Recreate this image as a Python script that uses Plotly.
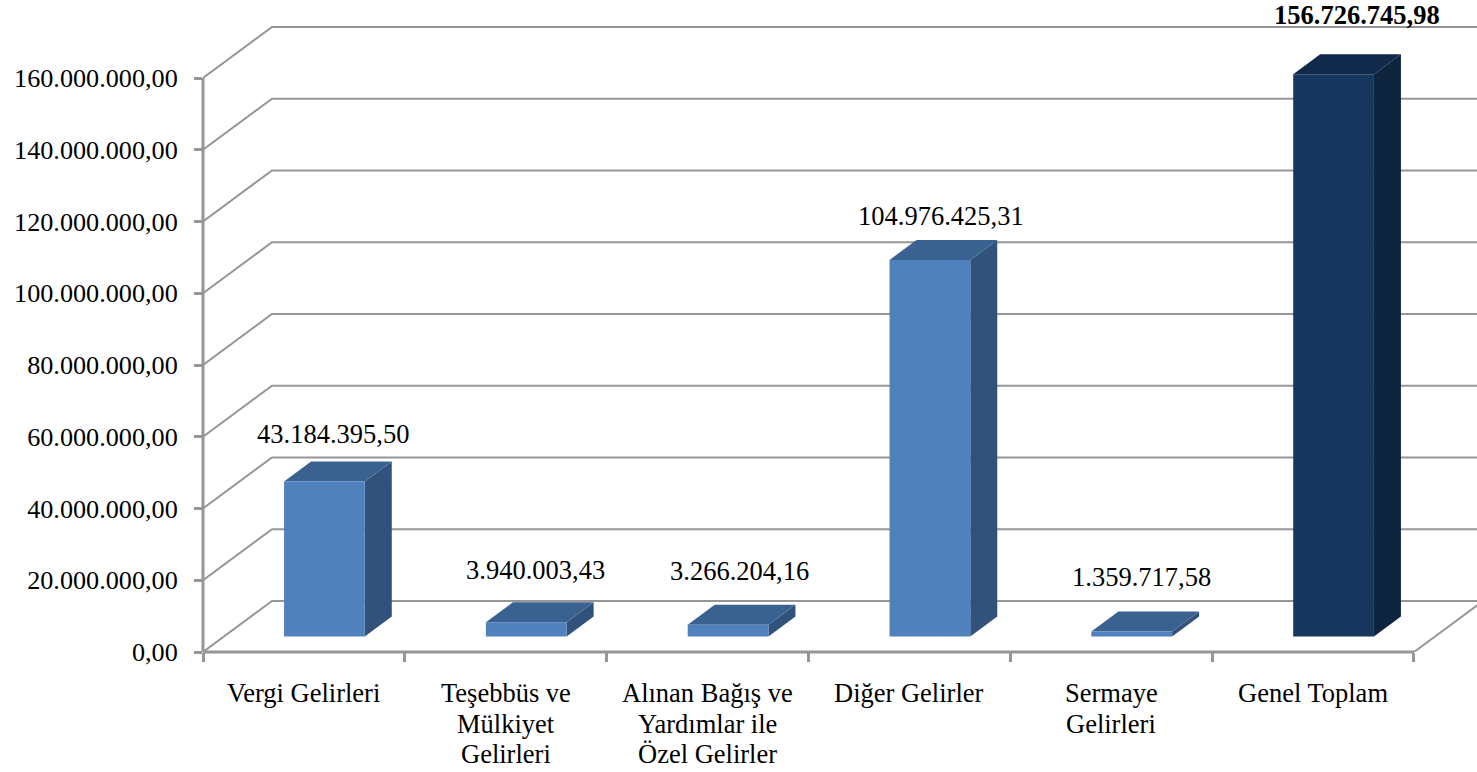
import plotly.graph_objects as go

categories = ["Vergi Gelirleri", "Teşebbüs ve<br>Mülkiyet<br>Gelirleri",
              "Alınan Bağış ve<br>Yardımlar ile<br>Özel Gelirler", "Diğer Gelirler",
              "Sermaye<br>Gelirleri", "Genel Toplam"]
values = [43184395.50, 3940003.43, 3266204.16, 104976425.31, 1359717.58, 156726745.98]
value_labels = ["43.184.395,50", "3.940.003,43", "3.266.204,16", "104.976.425,31",
                "1.359.717,58", "156.726.745,98"]
y_ticks = [0, 20e6, 40e6, 60e6, 80e6, 100e6, 120e6, 140e6, 160e6]
y_tick_labels = ["0,00", "20.000.000,00", "40.000.000,00", "60.000.000,00", "80.000.000,00",
                 "100.000.000,00", "120.000.000,00", "140.000.000,00", "160.000.000,00"]

# label placement (pixel shifts relative to the bar's front-top centre)
label_dx = [9, 9, 11, 11, 10, 23]
label_dy = [48, 52, 54, 44, 55, 59]
cat_label_pos = [0.5, 1.5, 2.5, 3.5, 4.5, 5.5]

W, H = 1477, 772
L, B = 203, 120
PX_X = 201.83          # pixels per category
PX_Y = 3.5875e-6       # pixels per unit of value
x_max = (W - L) / PX_X
y_max = (H - B) / PX_Y


def px(n):
    return n / PX_X


def py(n):
    return n / PX_Y


GRID = "#969696"
FONT = "Liberation Serif"
DEPTH = (69, 51)
BAR_OFF = (20.5, 15.5)
BAR_D = (27, 20)
BAR_W = 0.4

fig = go.Figure()


def line(xs, ys, width=2):
    fig.add_trace(go.Scatter(x=xs, y=ys, mode="lines", line=dict(color=GRID, width=width),
                             hoverinfo="skip", showlegend=False))


def poly(xs, ys, color):
    fig.add_trace(go.Scatter(x=xs, y=ys, mode="lines", fill="toself", fillcolor=color,
                             line=dict(width=0, color=color), hoverinfo="skip", showlegend=False))


# walls: gridlines
for v in y_ticks:
    line([0, px(DEPTH[0]), x_max], [v, v + py(DEPTH[1]), v + py(DEPTH[1])])
# floor right edge
line([6, 6 + px(DEPTH[0])], [0, py(DEPTH[1])])

# axis lines (paper refs so they are not clipped at the plot edge)
fig.add_shape(type="line", xref="paper", yref="paper", x0=0, x1=0, y0=0, y1=y_ticks[-1] / y_max,
              line=dict(color=GRID, width=3))
fig.add_shape(type="line", xref="paper", yref="paper", x0=0, x1=len(values) / x_max, y0=0, y1=0,
              line=dict(color=GRID, width=3))

# bars
for i, v in enumerate(values):
    dark = i == len(values) - 1
    front, side, top = ("#17375E", "#0F243E", "#11294A") if dark else ("#4F81BD", "#31527B", "#3A6290")
    x0 = i + 0.5 + px(BAR_OFF[0]) - BAR_W / 2
    x1 = x0 + BAR_W
    y0 = py(BAR_OFF[1])
    y1 = y0 + v
    dx, dy = px(BAR_D[0]), py(BAR_D[1])
    poly([x1, x1 + dx, x1 + dx, x1, x1], [y0, y0 + dy, y1 + dy, y1, y0], side)
    poly([x0, x0 + dx, x1 + dx, x1, x0], [y1, y1 + dy, y1 + dy, y1, y1], top)
    poly([x0, x1, x1, x0, x0], [y0, y0, y1, y1, y0], front)
    text = "<b>" + value_labels[i] + "</b>" if dark else value_labels[i]
    fig.add_annotation(x=(x0 + x1) / 2, y=y1, text=text, showarrow=False,
                       xshift=label_dx[i], yshift=label_dy[i],
                       font=dict(family=FONT, size=26.5, color="black"),
                       xanchor="center", yanchor="middle")

# category labels, one annotation per line (tight line spacing as in the reference)
for pos, cat in zip(cat_label_pos, categories):
    for k, part in enumerate(cat.split("<br>")):
        fig.add_annotation(x=pos, xref="x", y=0, yref="paper", text=part, showarrow=False,
                           yshift=-(41 + 30.5 * k), xanchor="center", yanchor="middle",
                           font=dict(family=FONT, size=26.5, color="black"))

fig.update_layout(
    width=W, height=H, margin=dict(l=L, r=0, t=0, b=B, pad=0, autoexpand=False),
    paper_bgcolor="white", plot_bgcolor="white", showlegend=False,
    font=dict(family=FONT, size=26, color="black"),
    xaxis=dict(range=[0, x_max], showgrid=False, zeroline=False, showline=False,
               tickmode="array", tickvals=list(range(len(values) + 1)), showticklabels=False,
               ticks="outside", ticklen=9, tickwidth=2.5, tickcolor=GRID),
    yaxis=dict(range=[0, y_max], showgrid=False, zeroline=False, showline=False,
               tickmode="array", tickvals=y_ticks, ticktext=y_tick_labels,
               ticks="outside", ticklen=8, tickwidth=2.5, tickcolor=GRID,
               ticklabelstandoff=11,
               tickfont=dict(family=FONT, size=26.2, color="black")),
)

fig.write_html("out.html", post_script="document.body.style.margin='0';",
               config={"displayModeBar": False})
